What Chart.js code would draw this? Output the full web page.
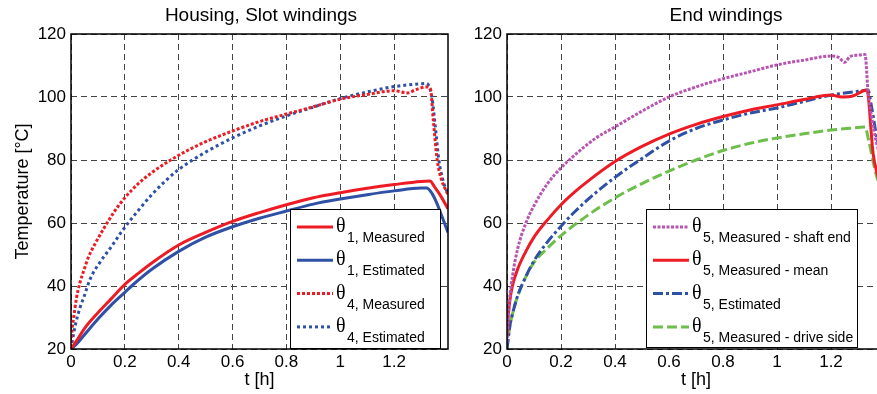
<!DOCTYPE html>
<html>
<head>
<meta charset="utf-8">
<script src="https://cdn.jsdelivr.net/npm/chart.js@4.4.1/dist/chart.umd.min.js"></script>
<style>
  html, body { margin: 0; padding: 0; background: #fff; overflow: hidden; }
  body { width: 877px; height: 394px; position: relative; }
  canvas { position: absolute; top: 0; }
  #housingChart { left: 0; }
  #endChart { left: 455px; }
</style>
</head>
<body>
<canvas id="housingChart" width="460" height="394"></canvas>
<canvas id="endChart" width="440" height="394"></canvas>
<script>
// values
const xTicks = [0, 0.2, 0.4, 0.6, 0.8, 1, 1.2];
const yTicks = [20, 40, 60, 80, 100, 120];

// Housing, Slot windings
const tTheta1Meas = [0, 0.02, 0.05, 0.1, 0.15, 0.2, 0.25, 0.3, 0.4, 0.5, 0.6, 0.7, 0.8, 0.9, 1.0, 1.1, 1.2, 1.3, 1.333, 1.35, 1.37, 1.4];
const theta1Meas  = [20, 22.5, 26.5, 31.5, 36, 40.5, 44, 47.3, 53, 57, 60.5, 63.3, 65.8, 68, 69.6, 71, 72.2, 73.2, 73.3, 71.5, 69, 64.5];

const tTheta1Est = [0, 0.02, 0.05, 0.1, 0.15, 0.2, 0.225, 0.3, 0.4, 0.5, 0.6, 0.7, 0.8, 0.9, 1.0, 1.1, 1.2, 1.3, 1.32, 1.34, 1.36, 1.38, 1.4];
const theta1Est  = [20, 21.5, 24.5, 29.5, 34, 38, 40, 45.3, 51, 55.5, 58.8, 61.5, 63.8, 66, 67.6, 69, 70.2, 71.1, 71.1, 69.5, 66, 61.5, 57];

const tTheta4Meas = [0, 0.005, 0.01, 0.02, 0.033, 0.05, 0.064, 0.09, 0.12, 0.16, 0.2, 0.25, 0.3, 0.4, 0.5, 0.6, 0.7, 0.8, 0.9, 1.0, 1.1, 1.2, 1.25, 1.28, 1.32, 1.335, 1.345, 1.36, 1.375, 1.4];
const theta4Meas  = [22, 27, 30, 36, 41, 45.5, 49, 53.5, 58, 63.5, 68, 72.5, 76, 81.5, 85.8, 89.2, 92.2, 94.6, 96.9, 99.3, 100.8, 102, 101.3, 102.3, 103.2, 102.5, 93, 80, 74, 69];

const tTheta4Est = [0, 0.01, 0.02, 0.033, 0.05, 0.07, 0.108, 0.15, 0.19, 0.25, 0.3, 0.35, 0.4, 0.5, 0.6, 0.7, 0.8, 0.9, 1.0, 1.1, 1.2, 1.3, 1.32, 1.34, 1.353, 1.366, 1.38, 1.4];
const theta4Est  = [20, 25, 29, 33, 37, 42, 47.6, 52.5, 57.5, 64, 69, 73.3, 77, 82.5, 87, 90.8, 94, 96.8, 99.5, 101.6, 103.3, 104.2, 104.3, 100, 90.5, 80, 74, 69];

// End windings
const tShaftEnd = [0, 0.005, 0.01, 0.02, 0.04, 0.07, 0.1, 0.15, 0.2, 0.27, 0.33, 0.4, 0.5, 0.6, 0.7, 0.8, 0.9, 1.0, 1.1, 1.2, 1.23, 1.25, 1.27, 1.3, 1.326, 1.337, 1.35, 1.37, 1.4];
const shaftEnd  = [22, 30, 36, 43, 52, 60, 65.5, 72.5, 77.5, 83, 87, 90.5, 95.5, 100, 103.2, 105.8, 108, 110.2, 111.7, 113, 112.5, 111, 112.8, 113.3, 113.5, 102, 94, 85, 78];

const tMean = [0, 0.003, 0.01, 0.02, 0.04, 0.07, 0.1, 0.15, 0.2, 0.25, 0.3, 0.4, 0.5, 0.6, 0.7, 0.8, 0.9, 1.0, 1.1, 1.2, 1.24, 1.28, 1.333, 1.356, 1.37, 1.4];
const meanTemp = [24, 29, 35, 40, 45.5, 51, 55.5, 61, 65.8, 69.8, 73.3, 79.5, 84.3, 88.2, 91.3, 93.8, 95.9, 97.5, 99.2, 100.6, 100, 100.3, 102.2, 82, 76, 68];

const tTheta5Est = [0, 0.01, 0.02, 0.04, 0.07, 0.1, 0.15, 0.2, 0.25, 0.3, 0.4, 0.5, 0.6, 0.7, 0.8, 0.9, 1.0, 1.1, 1.2, 1.3, 1.337, 1.35, 1.37, 1.4];
const theta5Est  = [20, 27, 31, 37, 43, 48, 54, 59, 63.5, 67.5, 74.5, 80.5, 86, 90, 92.7, 94.9, 96.5, 98.6, 100.6, 101.8, 102.2, 97, 87, 78];

const tDriveSide = [0, 0.01, 0.02, 0.04, 0.07, 0.1, 0.15, 0.2, 0.3, 0.4, 0.5, 0.6, 0.7, 0.8, 0.9, 1.0, 1.1, 1.2, 1.3, 1.326, 1.34, 1.36, 1.37, 1.4];
const driveSide  = [20, 27, 31, 37, 43, 47.5, 52, 56, 62.5, 68, 72.5, 76.5, 80, 83, 85.3, 87, 88.3, 89.5, 90.3, 90.5, 86, 78, 74.6, 68];

const leftSubs = ['1, Measured', '1, Estimated', '4, Measured', '4, Estimated'];
const rightSubs = ['5, Measured - shaft end', '5, Measured - mean', '5, Estimated', '5, Measured - drive side'];

const RED = 'rgb(237, 28, 36)';
const BLUE = 'rgb(46, 80, 165)';
const MAGENTA = 'rgb(184, 84, 178)';
const GREEN = 'rgb(110, 190, 75)';

Chart.defaults.font.family = '"Liberation Sans", Arial, sans-serif';
Chart.defaults.color = '#000';

function pts(ts, vs) {
    return ts.map((t, i) => ({ x: t, y: vs[i] }));
}

function series(label, ts, vs, color, dash) {
    return {
        label: label,
        data: pts(ts, vs),
        borderColor: color,
        borderWidth: 3,
        borderDash: dash,
        borderCapStyle: 'butt',
        pointRadius: 0,
        fill: false,
        cubicInterpolationMode: 'monotone'
    };
}

// frame, title and MATLAB-like legend
const matlabFrame = {
    id: 'matlabFrame',
    afterDraw(chart, args, opts) {
        const { ctx, chartArea: a } = chart;
        ctx.save();
        ctx.fillStyle = '#000';
        ctx.font = '19px "Liberation Sans", Arial, sans-serif';
        ctx.textAlign = 'center';
        ctx.textBaseline = 'alphabetic';
        ctx.fillText(opts.title, opts.titleX, 21);

        ctx.setLineDash([]);
        ctx.strokeStyle = '#000';
        ctx.lineWidth = 1.5;
        ctx.strokeRect(a.left, a.top, a.right - a.left, a.bottom - a.top);

        const b = opts.box;
        ctx.fillStyle = '#fff';
        ctx.fillRect(b.x, b.y, b.w, b.h);
        ctx.lineWidth = 1;
        ctx.strokeRect(b.x + 0.5, b.y + 0.5, b.w, b.h);

        chart.data.datasets.forEach((ds, i) => {
            const y = b.y + 18 + i * 33.3;
            ctx.setLineDash(ds.borderDash || []);
            ctx.strokeStyle = ds.borderColor;
            ctx.lineWidth = ds.borderWidth;
            ctx.beginPath();
            ctx.moveTo(b.x + 7, y);
            ctx.lineTo(b.x + 43, y);
            ctx.stroke();
            ctx.fillStyle = '#000';
            ctx.textAlign = 'left';
            ctx.font = '20px "Liberation Serif", "Times New Roman", serif';
            ctx.fillText('\u03b8', b.x + 46, y + 5);
            ctx.font = '14px "Liberation Sans", Arial, sans-serif';
            ctx.fillText(opts.subs[i], b.x + 57, y + 15);
        });
        ctx.restore();
    }
};

function makeOptions(yWidth, rightPad, yTitle, frameOpts) {
    return {
        responsive: false,
        animation: false,
        layout: { padding: { top: 34, right: rightPad, left: 0, bottom: 0 } },
        plugins: {
            legend: { display: false },
            tooltip: { enabled: false },
            matlabFrame: frameOpts
        },
        scales: {
            x: {
                type: 'linear',
                min: 0,
                max: 1.4,
                afterBuildTicks: s => { s.ticks = xTicks.map(v => ({ value: v })); },
                afterFit: s => { s.height = 45; },
                ticks: {
                    autoSkip: false, maxRotation: 0, padding: 3,
                    font: { size: 17 },
                    callback: v => String(+v.toFixed(2))
                },
                grid: { color: '#444', lineWidth: 1, drawTicks: false },
                border: { display: false, dash: [6, 4] },
                title: { display: true, text: 't [h]', font: { size: 18 }, padding: { top: 0, bottom: 3 } }
            },
            y: {
                type: 'linear',
                min: 20,
                max: 120,
                afterBuildTicks: s => { s.ticks = yTicks.map(v => ({ value: v })); },
                afterFit: s => { s.width = yWidth; },
                ticks: { padding: 5, font: { size: 17 } },
                grid: { color: '#444', lineWidth: 1, drawTicks: false },
                border: { display: false, dash: [6, 4] },
                title: { display: !!yTitle, text: yTitle, font: { size: 18 }, padding: { top: 12, bottom: 0 } }
            }
        }
    };
}

new Chart(document.getElementById('housingChart'), {
    type: 'line',
    data: {
        datasets: [
            series('\u03b81, Measured', tTheta1Meas, theta1Meas, RED, []),
            series('\u03b81, Estimated', tTheta1Est, theta1Est, BLUE, []),
            series('\u03b84, Measured', tTheta4Meas, theta4Meas, RED, [3, 2]),
            series('\u03b84, Estimated', tTheta4Est, theta4Est, BLUE, [3, 3])
        ]
    },
    options: makeOptions(71, 12, 'Temperature [\u00b0C]', {
        title: 'Housing, Slot windings', titleX: 261,
        box: { x: 290, y: 209, w: 150, h: 139 }, subs: leftSubs
    }),
    plugins: [matlabFrame]
});

new Chart(document.getElementById('endChart'), {
    type: 'line',
    data: {
        datasets: [
            series('\u03b85, Measured - shaft end', tShaftEnd, shaftEnd, MAGENTA, [3, 1.5]),
            series('\u03b85, Measured - mean', tMean, meanTemp, RED, []),
            series('\u03b85, Estimated', tTheta5Est, theta5Est, BLUE, [10, 3, 3, 3]),
            series('\u03b85, Measured - drive side', tDriveSide, driveSide, GREEN, [10, 4])
        ]
    },
    options: makeOptions(52, 10, '', {
        title: 'End windings', titleX: 271,
        box: { x: 191, y: 209, w: 211, h: 138 }, subs: rightSubs
    }),
    plugins: [matlabFrame]
});
</script>
</body>
</html>
